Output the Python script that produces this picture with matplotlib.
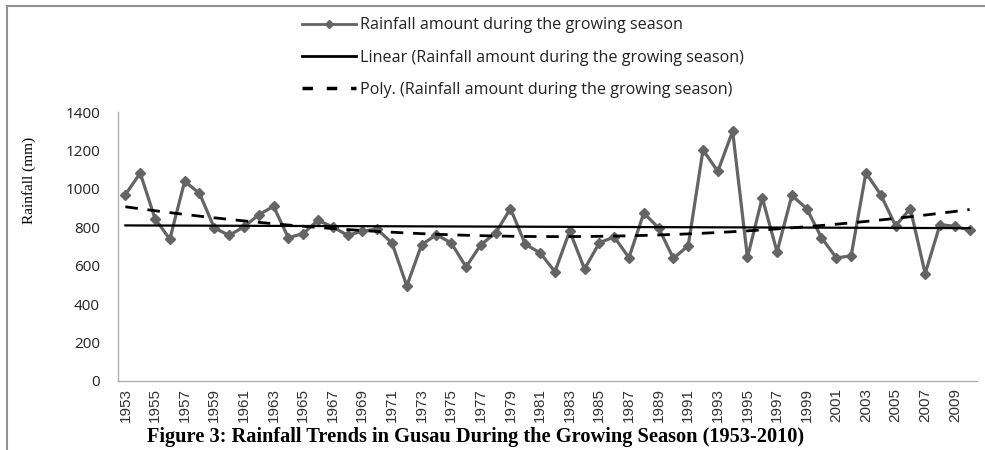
import numpy as np
import matplotlib
matplotlib.use("Agg")
import matplotlib.pyplot as plt
from matplotlib.lines import Line2D

years = list(range(1953, 2011))
rainfall = [970, 1082, 845, 738, 1039, 977, 797, 758, 802, 865,
            909, 746, 767, 836, 802, 758, 780, 790, 718, 495,
            709, 762, 718, 594, 709, 771, 897, 712, 667, 569,
            780, 583, 719, 750, 642, 874, 797, 638, 704, 1203,
            1091, 1300, 643, 954, 672, 966, 897, 746, 641, 651,
            1083, 970, 808, 897, 559, 814, 805, 785]
tick_labels = [str(y) for y in years[::2]]
yticks = [0, 200, 400, 600, 800, 1000, 1200, 1400]

label_series = "Rainfall amount during the growing season"
label_linear = "Linear (Rainfall amount during the growing season)"
label_poly = "Poly. (Rainfall amount during the growing season)"
title = "Figure 3: Rainfall Trends in Gusau During the Growing Season (1953-2010)"

x = np.array(years, dtype=float)
y = np.array(rainfall, dtype=float)
lin = np.polyval(np.polyfit(x - 1953, y, 1), x - 1953)
poly = np.polyval(np.polyfit(x - 1953, y, 2), x - 1953)

fig = plt.figure(figsize=(9.85, 4.5), dpi=100)
ax = fig.add_axes([118/985, 69/450, (977-118)/985, (381-112)/450])

gray = "#646464"
ax.plot(x, y, color=gray, lw=2.3, marker="D", ms=5.5, mec=gray, mfc=gray, zorder=3)
ax.plot(x, lin, color="black", lw=1.6, zorder=4)
ax.plot(x, poly, color="black", lw=2.0, dashes=(4.5, 3.5), zorder=4)

ax.set_xlim(1952.5, 2010.5)
ax.set_ylim(0, 1400)
ax.set_yticks(yticks)
ax.set_yticklabels([str(v) for v in yticks], fontsize=11, family=["Open Sans", "DejaVu Sans"], color="#222222")
ax.set_xticks(x[::2])
ax.set_xticklabels(tick_labels, rotation=90, fontsize=11,
                   family=["Liberation Sans Narrow", "Liberation Sans", "DejaVu Sans"], color="#333333")
ax.tick_params(axis="x", length=0, pad=5)
ax.tick_params(axis="y", length=0, pad=13)
for s in ["top", "right"]:
    ax.spines[s].set_visible(False)
for s in ["left", "bottom"]:
    ax.spines[s].set_color("#b0b0b0")
    ax.spines[s].set_linewidth(1.0)

ax.set_ylabel("Rainfall (mm)", family=["Liberation Serif", "DejaVu Serif"], fontsize=11)
ax.yaxis.set_label_coords(-82/859, (381-180)/269)

handles = [
    Line2D([0], [0], color=gray, lw=2.0, marker="D", ms=4.5, mec=gray, mfc=gray),
    Line2D([0], [0], color="black", lw=2.0),
    Line2D([0], [0], color="black", lw=2.5, dashes=(3, 4)),
]
leg = fig.legend(handles, [label_series, label_linear, label_poly],
                 loc="upper left", bbox_to_anchor=(287/985, 1 - 3/450), frameon=False,
                 handlelength=3.4, handletextpad=0.25, labelspacing=1.0,
                 prop={"family": ["Open Sans", "DejaVu Sans"], "size": 11.6})
for t in leg.get_texts():
    t.set_color("#222222")

fig.text(476/985, 1 - 437/450, title, ha="center", va="center",
         family=["Liberation Serif", "DejaVu Serif"], fontweight="bold", fontsize=14.7)

# outer frame (partial, as in reference)
fig.add_artist(Line2D([7/985, 1], [1 - 6/450, 1 - 6/450], transform=fig.transFigure, color="#909090", lw=1.5))
fig.add_artist(Line2D([7/985, 7/985], [0, 1 - 6/450], transform=fig.transFigure, color="#909090", lw=1.5))

fig.savefig("out.png", dpi=100)
